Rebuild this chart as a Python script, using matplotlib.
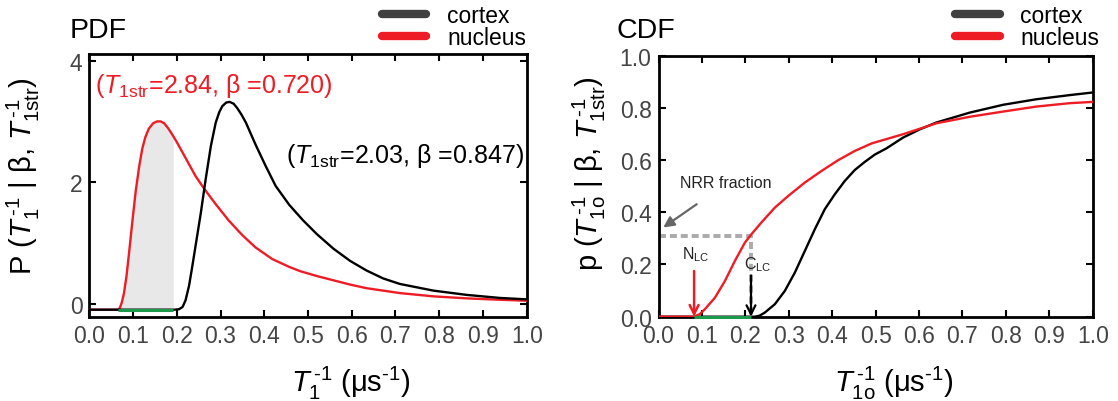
import matplotlib
matplotlib.use("Agg")
import matplotlib.pyplot as plt
from matplotlib.lines import Line2D

plt.rcParams['font.family'] = ['Liberation Sans', 'DejaVu Sans']
plt.rcParams['mathtext.fontset'] = 'custom'
plt.rcParams['mathtext.rm'] = 'Liberation Sans'
plt.rcParams['mathtext.it'] = 'Liberation Sans:italic'
plt.rcParams['mathtext.bf'] = 'Liberation Sans:bold'

# ---------------- data ----------------
pdf_nuc_x = [0.0, 0.066, 0.070, 0.074, 0.079, 0.085, 0.091, 0.098, 0.106, 0.114,
             0.121, 0.128, 0.136, 0.146, 0.155, 0.163, 0.171, 0.180, 0.190, 0.200,
             0.220, 0.243, 0.262, 0.289, 0.319, 0.350, 0.380, 0.418, 0.457, 0.482,
             0.520, 0.558, 0.596, 0.634, 0.672, 0.710, 0.787, 0.863, 0.939, 1.0]
pdf_nuc_y = [-0.093, -0.093, -0.06, 0.02, 0.17, 0.46, 0.85, 1.33, 1.85, 2.26,
             2.55, 2.74, 2.88, 2.97, 3.00, 3.00, 2.97, 2.89, 2.78, 2.66,
             2.40, 2.10, 1.90, 1.64, 1.37, 1.13, 0.93, 0.74, 0.61, 0.54,
             0.46, 0.39, 0.32, 0.26, 0.22, 0.18, 0.126, 0.093, 0.07, 0.055]

pdf_ctx_x = [0.0, 0.194, 0.205, 0.213, 0.220, 0.228, 0.235, 0.243, 0.255, 0.266,
             0.278, 0.289, 0.297, 0.304, 0.313, 0.321, 0.330, 0.338, 0.348, 0.358,
             0.380, 0.403, 0.426, 0.457, 0.488, 0.520, 0.558, 0.596, 0.634, 0.672,
             0.710, 0.787, 0.863, 0.939, 1.0]
pdf_ctx_y = [-0.093, -0.093, -0.085, -0.05, 0.06, 0.30, 0.60, 0.96, 1.50, 2.05,
             2.60, 2.98, 3.15, 3.25, 3.31, 3.32, 3.29, 3.22, 3.11, 2.98,
             2.62, 2.27, 1.94, 1.63, 1.38, 1.15, 0.91, 0.71, 0.55, 0.42,
             0.33, 0.22, 0.15, 0.10, 0.077]

shade_x = [0.066, 0.070, 0.074, 0.079, 0.085, 0.091, 0.098, 0.106, 0.114, 0.121,
           0.128, 0.136, 0.146, 0.155, 0.163, 0.171, 0.180, 0.190, 0.192]
shade_y = [-0.093, -0.06, 0.02, 0.17, 0.46, 0.85, 1.33, 1.85, 2.26, 2.55,
           2.74, 2.88, 2.97, 3.00, 3.00, 2.97, 2.89, 2.78, 2.76]
pdf_green = [0.066, 0.192]
pdf_base = -0.093

cdf_nuc_x = [0.0, 0.082, 0.095, 0.107, 0.130, 0.153, 0.176, 0.199, 0.214, 0.237,
             0.268, 0.299, 0.337, 0.376, 0.414, 0.452, 0.491, 0.563, 0.640, 0.717,
             0.794, 0.870, 0.947, 1.0]
cdf_nuc_y = [0.0, 0.0, 0.01, 0.029, 0.073, 0.137, 0.214, 0.284, 0.316, 0.361,
             0.418, 0.463, 0.514, 0.559, 0.600, 0.635, 0.664, 0.699, 0.741, 0.766,
             0.786, 0.805, 0.818, 0.823]

cdf_ctx_x = [0.0, 0.222, 0.233, 0.245, 0.268, 0.291, 0.314, 0.337, 0.360, 0.383,
             0.406, 0.429, 0.452, 0.475, 0.498, 0.525, 0.563, 0.602, 0.640, 0.717,
             0.794, 0.870, 0.947, 1.0]
cdf_ctx_y = [0.0, 0.0, 0.004, 0.016, 0.048, 0.099, 0.169, 0.252, 0.335, 0.412,
             0.469, 0.520, 0.562, 0.593, 0.621, 0.645, 0.686, 0.718, 0.744, 0.782,
             0.812, 0.833, 0.849, 0.859]

cdf_green = [0.082, 0.213]
nrr_level = 0.31
n_lc = 0.082
c_lc = 0.213

x_ticks = [0.0, 0.1, 0.2, 0.3, 0.4, 0.5, 0.6, 0.7, 0.8, 0.9, 1.0]
pdf_yticks = [0, 2, 4]
cdf_yticks = [0.0, 0.2, 0.4, 0.6, 0.8, 1.0]

series = ['cortex', 'nucleus']
HY = '\u2010'  # short hyphen used in the superscripts
note_nuc = r'($\mathit{T}_{\mathrm{1str}}$=2.84, β =0.720)'
note_ctx = r'($\mathit{T}_{\mathrm{1str}}$=2.03, β =0.847)'
sup = r'^{\,\mathrm{' + HY + '1}}'
sup_u = r'^{\mathrm{' + HY + '1}}'

# ---------------- styles ----------------
RED = '#ee1c25'
BLK = '#000000'
GRN = '#1a9a4a'
GRAY_DASH = '#aaaaaa'
TICKC = '#444444'
LW = 1.7

fig = plt.figure(figsize=(11.18, 4.02), dpi=100)
axL = fig.add_axes([0.0799, 0.2097, 0.3912, 0.6535])
axR = fig.add_axes([0.589, 0.2097, 0.3884, 0.6493])

for ax in (axL, axR):
    for s in ax.spines.values():
        s.set_linewidth(2.0)
    ax.tick_params(direction='in', top=True, right=True, length=5, width=1.5,
                   labelsize=16.5, labelcolor=TICKC, pad=5)
    ax.set_xlim(0, 1)
    ax.set_xticks(x_ticks)
    ax.set_xticklabels([f'{t:.1f}' for t in x_ticks])

# ---- PDF ----
axL.fill_between(shade_x, pdf_base, shade_y, color='#e8e8e8', lw=0, zorder=1)
axL.plot(pdf_nuc_x, pdf_nuc_y, color=RED, lw=LW, zorder=3, solid_joinstyle='round')
axL.plot(pdf_ctx_x, pdf_ctx_y, color=BLK, lw=LW, zorder=4, solid_joinstyle='round')
axL.plot(pdf_green, [pdf_base, pdf_base], color=GRN, lw=2.2, zorder=5,
         solid_capstyle='butt')
axL.set_ylim(-0.208, 4.107)
axL.set_yticks(pdf_yticks)
axL.set_yticklabels([str(t) for t in pdf_yticks])
axL.text(0.013, 3.6, note_nuc, color=RED, fontsize=18, va='center', ha='left')
axL.text(0.45, 2.45, note_ctx, color=BLK, fontsize=18, va='center', ha='left')

# ---- CDF ----
axR.plot(cdf_ctx_x, cdf_ctx_y, color=BLK, lw=LW, zorder=3, solid_joinstyle='round')
axR.plot(cdf_nuc_x, cdf_nuc_y, color=RED, lw=LW, zorder=4, solid_joinstyle='round')
axR.plot(cdf_green, [0, 0], color=GRN, lw=2.2, zorder=5, solid_capstyle='butt',
         clip_on=False)
axR.plot([0.0, c_lc, c_lc], [nrr_level, nrr_level, 0.0], color=GRAY_DASH, lw=2.8,
         dashes=(1.8, 1.0), zorder=2)
axR.annotate('', xy=(n_lc, 0.0), xytext=(n_lc, 0.175),
             arrowprops=dict(arrowstyle='->', color=RED, lw=1.8, mutation_scale=16,
                             shrinkA=0, shrinkB=0), zorder=6)
axR.annotate('', xy=(c_lc, 0.0), xytext=(c_lc, 0.158),
             arrowprops=dict(arrowstyle='->', color=BLK, lw=1.6, mutation_scale=16,
                             shrinkA=0, shrinkB=0), zorder=6)
axR.annotate('', xy=(0.011, 0.342), xytext=(0.088, 0.431),
             arrowprops=dict(arrowstyle='-|>', color='#666666', lw=1.6,
                             mutation_scale=16, shrinkA=0, shrinkB=0), zorder=6)
axR.text(0.05, 0.515, 'NRR fraction', fontsize=11.5, color='#222222',
         ha='left', va='center')
axR.text(0.085, 0.24, r'N$_{\mathrm{LC}}$', fontsize=11.5, color='#222222',
         ha='center', va='center')
axR.text(0.228, 0.205, r'C$_{\mathrm{LC}}$', fontsize=11.5, color='#222222',
         ha='center', va='center')
axR.set_ylim(0, 1)
axR.set_yticks(cdf_yticks)
axR.set_yticklabels([f'{t:.1f}' for t in cdf_yticks])

# ---- titles & labels ----
fig.text(70 / 1118, 1 - 37.5 / 402, 'PDF', fontsize=20.5, ha='left', va='baseline')
fig.text(617 / 1118, 1 - 37.5 / 402, 'CDF', fontsize=20.5, ha='left', va='baseline')

fig.text(23 / 1118, 1 - 176 / 402,
         r'P ($\mathit{T}_{1}' + sup + r'$ | β, $\mathit{T}_{\mathrm{1str}}' + sup + r'$)',
         fontsize=21, rotation=90, ha='center', va='center')
fig.text(589 / 1118, 1 - 174 / 402,
         r'p ($\mathit{T}_{\mathrm{1o}}' + sup + r'$ | β, $\mathit{T}_{\mathrm{1str}}' + sup + r'$)',
         fontsize=21, rotation=90, ha='center', va='center')

fig.text(351 / 1118, 1 - 392 / 402,
         r'$\mathit{T}_{1}' + sup + r'$ (μs$' + sup_u + r'$)',
         fontsize=21, ha='center', va='baseline')
fig.text(894 / 1118, 1 - 392 / 402,
         r'$\mathit{T}_{\mathrm{1o}}' + sup + r'$ (μs$' + sup_u + r'$)',
         fontsize=21, ha='center', va='baseline')

# ---- legends ----
handles = [Line2D([], [], color='#404040', lw=6, solid_capstyle='round'),
           Line2D([], [], color=RED, lw=6, solid_capstyle='round')]
for x0 in (381.7, 955.0):
    fig.legend(handles, series, loc='upper left',
               bbox_to_anchor=(x0 / 1118, 1 - 5 / 402), bbox_transform=fig.transFigure,
               frameon=False, fontsize=16.5, handlelength=1.95, handletextpad=0.9,
               labelspacing=-0.05, borderpad=0, borderaxespad=0)

fig.savefig('out.png', dpi=100)
